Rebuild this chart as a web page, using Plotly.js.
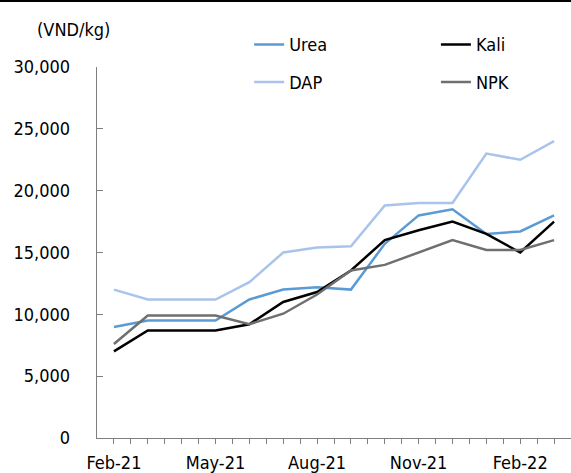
<!DOCTYPE html>
<html>
<head>
<meta charset="utf-8">
<script src="https://cdn.plot.ly/plotly-3.0.1.min.js"></script>
<style>
html,body{margin:0;padding:0;background:#fff;}
#chart{width:571px;height:473px;position:absolute;left:0;top:0;}
#topline{position:absolute;left:0;top:0;width:571px;height:2px;background:#000;z-index:10;}
</style>
</head>
<body>
<div id="chart"></div>
<div id="topline"></div>
<script>
var months = ["Feb-21","Mar-21","Apr-21","May-21","Jun-21","Jul-21","Aug-21","Sep-21","Oct-21","Nov-21","Dec-21","Jan-22","Feb-22","Mar-22"];
var urea = [8970, 9500, 9500, 9500, 11200, 12000, 12200, 12000, 15700, 18000, 18500, 16500, 16700, 18000];
var kali = [7000, 8700, 8700, 8700, 9200, 11000, 11800, 13550, 16000, 16800, 17500, 16500, 15000, 17500];
var dap  = [12000, 11200, 11200, 11200, 12600, 15000, 15400, 15500, 18800, 19000, 19000, 23000, 22500, 24000];
var npk  = [7600, 9900, 9900, 9900, 9200, 10050, 11600, 13550, 14000, 15000, 16000, 15200, 15200, 16000];
var yTicks = [0, 5000, 10000, 15000, 20000, 25000, 30000];

var FONT = "Tahoma, 'DejaVu Sans Condensed', 'Noto Sans', sans-serif";
var idx = months.map(function(m,i){return i;});

var tickvals = [], ticktext = [];
months.forEach(function(m,i){
  tickvals.push(i); ticktext.push(i % 3 === 0 ? m : "");
  tickvals.push(i + 0.5); ticktext.push("");
});

function tr(name, y, color, legend){
  return {x: idx, y: y, name: name, type: 'scatter', mode: 'lines',
          line: {color: color, width: 2.5}, legend: legend, hoverinfo: 'skip'};
}

var data = [
  tr('Urea', urea, '#5b9bd5', 'legend'),
  tr('Kali', kali, '#000000', 'legend2'),
  tr('DAP', dap, '#a9c4eb', 'legend3'),
  tr('NPK', npk, '#6f6f6f', 'legend4')
];

function leg(x, y){
  return {orientation: 'h', xanchor: 'left', yanchor: 'middle', x: x, y: y,
    bgcolor: 'rgba(0,0,0,0)', borderwidth: 0,
    font: {family: FONT, size: 18, color: '#000'}};
}

var layout = {
  width: 571, height: 473,
  margin: {l: 97, r: 0, t: 66.5, b: 35.4, pad: 0},
  paper_bgcolor: '#fff', plot_bgcolor: '#fff',
  font: {family: FONT, size: 18, color: '#000'},
  separators: '.,',
  showlegend: true,
  legend: leg(0.321, 1.060),
  legend2: leg(0.715, 1.060),
  legend3: leg(0.321, 0.959),
  legend4: leg(0.715, 0.959),
  xaxis: {
    range: [-0.5, months.length - 0.5], showgrid: false, zeroline: false,
    showline: true, linecolor: '#7f7f7f', linewidth: 1.3,
    tickmode: 'array', tickvals: tickvals, ticktext: ticktext,
    ticks: 'outside', ticklen: 5, tickcolor: '#7f7f7f', tickwidth: 1,
    ticklabelstandoff: 3,
    tickfont: {family: FONT, size: 18, color: '#000'}
  },
  yaxis: {
    range: [0, 30000], showgrid: false, zeroline: false,
    showline: true, linecolor: '#7f7f7f', linewidth: 1.3,
    tickmode: 'array', tickvals: yTicks, tickformat: ',d',
    ticks: 'inside', ticklen: 6, tickcolor: '#7f7f7f', tickwidth: 1,
    ticklabelstandoff: 22,
    tickfont: {family: FONT, size: 18, color: '#000'}
  },
  annotations: [{
    text: '(VND/kg)', xref: 'paper', yref: 'paper', x: -0.05, y: 1.101,
    xanchor: 'center', yanchor: 'middle', showarrow: false,
    font: {family: FONT, size: 18, color: '#000'}
  }]
};

Plotly.newPlot('chart', data, layout, {displayModeBar: false, staticPlot: true});
</script>
</body>
</html>
